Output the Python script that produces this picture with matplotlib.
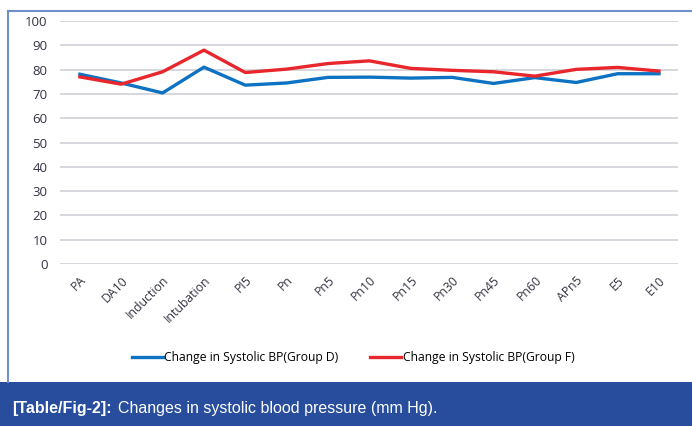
import matplotlib.pyplot as plt
from matplotlib.patches import Rectangle
from matplotlib.lines import Line2D

# Data
time_points = ["PA", "DA10", "Induction", "Intubation", "PI5", "Pn", "Pn5", "Pn10",
               "Pn15", "Pn30", "Pn45", "Pn60", "APn5", "E5", "E10"]
group_d = [78.1, 74.5, 70.4, 81.0, 73.6, 74.5, 76.8, 76.9, 76.5, 76.8, 74.3, 76.7, 74.7, 78.3, 78.3]
group_f = [77.0, 74.0, 79.1, 88.0, 78.8, 80.2, 82.5, 83.6, 80.5, 79.7, 79.1, 77.3, 80.1, 80.9, 79.4]
y_ticks = [0, 10, 20, 30, 40, 50, 60, 70, 80, 90, 100]

W, H = 692, 426
fig = plt.figure(figsize=(W / 100, H / 100), dpi=100)
plt.rcParams["font.family"] = ["Open Sans", "DejaVu Sans"]

# outer frame and caption band
fig.add_artist(Line2D([8 / W, 8 / W], [1 - 382 / H, 1 - 11 / H], transform=fig.transFigure,
                      color="#6f8fc8", lw=1.5))
fig.add_artist(Line2D([8 / W, 1], [1 - 11 / H, 1 - 11 / H], transform=fig.transFigure,
                      color="#6f8fc8", lw=1.5))
fig.add_artist(Rectangle((0, 0), 1, 44 / H, transform=fig.transFigure,
                         facecolor="#274d9c", edgecolor="none"))
fig.text(12 / W, 1 - 409 / H, "[Table/Fig-2]:", color="white", fontsize=11.5,
         fontweight="bold", va="center", family=["Liberation Sans"])
fig.text(118 / W, 1 - 409 / H, "Changes in systolic blood pressure (mm Hg).", color="white",
         fontsize=11.5, va="center", family=["Liberation Sans"])

ax = fig.add_axes([60 / W, 1 - 264 / H, (678 - 60) / W, (264 - 21) / H])
x = list(range(len(time_points)))
ax.plot(x, group_d, color="#0d72c2", lw=2.4, label="Change in Systolic BP(Group D)")
ax.plot(x, group_f, color="#e8262b", lw=2.4, label="Change in Systolic BP(Group F)")

ax.set_ylim(0, 100)
ax.set_xlim(-0.48, len(time_points) - 1 + 0.46)
ax.set_yticks(y_ticks)
ax.set_xticks(x)
ax.set_xticklabels(time_points, rotation=45, ha="right", va="top", rotation_mode="anchor")
ax.tick_params(axis="y", length=0, pad=9, labelsize=9.5, labelcolor="#333344")
ax.tick_params(axis="x", length=0, pad=7, labelsize=8.8, labelcolor="#333344")
ax.grid(axis="y", color="#d0d0d8", lw=1.2)
ax.set_axisbelow(True)
for s in ax.spines.values():
    s.set_visible(False)

fig.legend(loc="center", bbox_to_anchor=(353 / W, 1 - 358 / H), ncol=2, frameon=False,
           fontsize=8.7, handlelength=2.6, columnspacing=2.6, handletextpad=0.1)

plt.savefig("out.png", dpi=100)
